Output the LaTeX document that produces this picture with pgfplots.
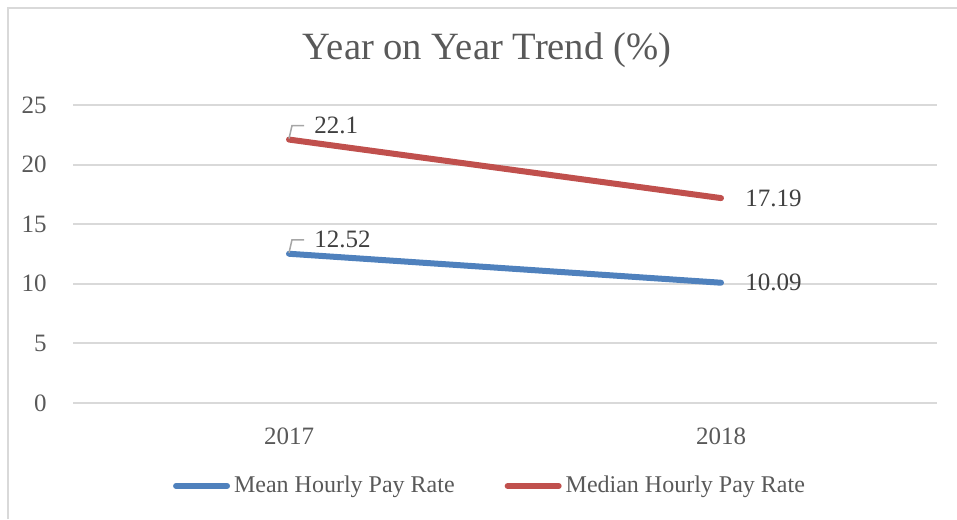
\documentclass[border=0pt]{standalone}
\usepackage{fontspec}
\setmainfont{Liberation Serif}
\usepackage{pgfplots}
\pgfplotsset{compat=1.18}

\definecolor{meanblue}{RGB}{79,129,189}
\definecolor{medianred}{RGB}{192,80,77}
\definecolor{gridgray}{RGB}{217,217,217}
\definecolor{textgray}{RGB}{89,89,89}
\definecolor{labelgray}{RGB}{64,64,64}
\definecolor{leadergray}{RGB}{166,166,166}

\tikzset{
  datalabel/.style={anchor=west, inner sep=0pt, text=labelgray, font=\fontsize{12.5}{14}\selectfont},
  leaderlabel/.style={datalabel, xshift=12.5pt, yshift=7pt,
    append after command={\pgfextra{\draw[leadergray, line width=0.75pt]
      ([xshift=-5pt]\tikzlastnode.west) -- ([xshift=-11pt]\tikzlastnode.west)
      -- ([xshift=-12.5pt,yshift=-6.5pt]\tikzlastnode.west);}}},
}

\begin{document}
\begin{tikzpicture}
\useasboundingbox (0,0) rectangle (478.5pt,259.5pt);
\draw[gridgray, line width=0.75pt] (4pt,0) -- (4pt,255.5pt) -- (478.5pt,255.5pt);
\begin{axis}[
  at={(36.5pt,58pt)}, anchor=south west,
  width=432pt, height=149pt, scale only axis,
  xmin=-0.5, xmax=1.5, ymin=0, ymax=25,
  xtick={0,1}, xticklabels={2017,2018},
  ytick={0,5,10,15,20,25},
  axis line style={draw=none},
  major tick length=0pt,
  ymajorgrids, grid style={gridgray, line width=1pt},
  tick label style={font=\fontsize{12.5}{14}\selectfont, text=textgray, inner sep=0pt},
  xticklabel style={anchor=north, yshift=-12pt},
  yticklabel style={anchor=east, xshift=-13pt},
  /pgf/number format/assume math mode=true,
  title={Year on Year Trend (\%)},
  title style={font=\fontsize{19.3}{22}\selectfont, text=textgray, at={(0.5,1)}, anchor=center,
    xshift=-9pt, yshift=21.5pt, inner sep=0pt},
  legend columns=2,
  legend style={draw=none, fill=none, at={(0.5,0)}, anchor=center, xshift=-7pt, yshift=-41.5pt,
    inner sep=0pt, font=\fontsize{12}{14}\selectfont, text=textgray,
    /tikz/every even column/.append style={column sep=23pt}},
  legend image code/.code={\draw[#1, line width=3pt, line cap=round] (1.5pt,0pt) -- (27pt,0pt);},
]
\addplot[meanblue, line width=3pt, line cap=round, mark=none] coordinates {(0,12.52) (1,10.09)};
\addlegendentry{Mean Hourly Pay Rate}
\addplot[medianred, line width=3pt, line cap=round, mark=none] coordinates {(0,22.1) (1,17.19)};
\addlegendentry{Median Hourly Pay Rate}

% data labels: 2017 with leader lines, 2018 to the right of the point
\addplot[draw=none, mark=none, forget plot, nodes near coords, point meta=explicit symbolic,
  every node near coord/.append style={leaderlabel}]
  coordinates {(0,22.1) [22.1] (0,12.52) [12.52]};
\addplot[draw=none, mark=none, forget plot, nodes near coords, point meta=explicit symbolic,
  every node near coord/.append style={datalabel, xshift=12pt}]
  coordinates {(1,17.19) [17.19] (1,10.09) [10.09]};
\end{axis}
\end{tikzpicture}
\end{document}
